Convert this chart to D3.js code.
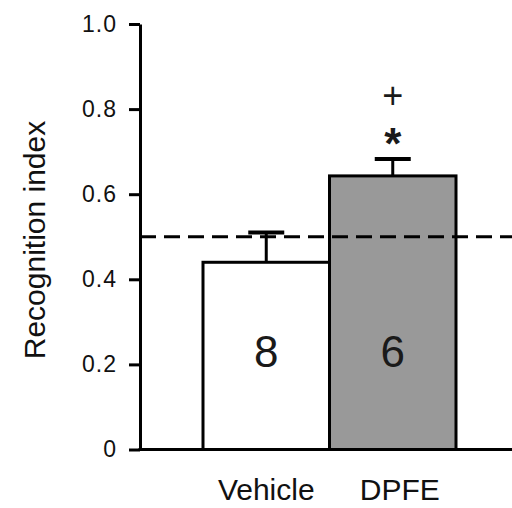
<!DOCTYPE html>
<html>
<head>
<meta charset="utf-8">
<script src="https://cdn.jsdelivr.net/npm/d3@7"></script>
<style>
  html, body { margin: 0; padding: 0; background: #fff; }
  svg { display: block; font-family: "Liberation Sans", Arial, sans-serif; }
</style>
</head>
<body>
<svg id="chart" width="512" height="508"></svg>
<script>
// data
const groups = ["Vehicle", "DPFE"];
const means = [0.44, 0.643];
const sems = [0.07, 0.04];
const counts = ["8", "6"];
const fills = ["#ffffff", "#999999"];
const chance = 0.5;
const yTicks = [0, 0.2, 0.4, 0.6, 0.8, 1.0];
const yTickLabels = ["0", "0.2", "0.4", "0.6", "0.8", "1.0"];

const svg = d3.select("#chart");
const axisLeftX = 140;
const x = d3.scaleBand().domain(groups).range([203, 456]).padding(0);
const y = d3.scaleLinear().domain([0, 1]).range([449.5, 24]);
const bw = x.bandwidth();

// bars
svg.selectAll("rect.bar")
  .data(groups)
  .join("rect")
  .attr("class", "bar")
  .attr("x", d => x(d))
  .attr("y", (d, i) => y(means[i]))
  .attr("width", bw)
  .attr("height", (d, i) => y(0) - y(means[i]))
  .attr("fill", (d, i) => fills[i])
  .attr("stroke", "#000")
  .attr("stroke-width", 3);

// error bars (upper only)
const err = svg.selectAll("g.err").data(groups).join("g").attr("class", "err");
err.append("line")
  .attr("x1", d => x(d) + bw / 2).attr("x2", d => x(d) + bw / 2)
  .attr("y1", (d, i) => y(means[i])).attr("y2", (d, i) => y(means[i] + sems[i]))
  .attr("stroke", "#000").attr("stroke-width", 3);
err.append("line")
  .attr("x1", d => x(d) + bw / 2 - 18).attr("x2", d => x(d) + bw / 2 + 18)
  .attr("y1", (d, i) => y(means[i] + sems[i])).attr("y2", (d, i) => y(means[i] + sems[i]))
  .attr("stroke", "#000").attr("stroke-width", 4);

// n inside bars
svg.selectAll("text.n")
  .data(groups)
  .join("text")
  .attr("class", "n")
  .attr("x", d => x(d) + bw / 2)
  .attr("y", 367)
  .attr("text-anchor", "middle")
  .attr("font-size", 44)
  .attr("fill", "#1a1a1a")
  .text((d, i) => counts[i]);

// chance line
svg.append("line")
  .attr("x1", axisLeftX).attr("x2", 520)
  .attr("y1", y(chance)).attr("y2", y(chance))
  .attr("stroke", "#000").attr("stroke-width", 3)
  .attr("stroke-dasharray", "16 8");

// significance marks over DPFE
const capTop = y(means[1] + sems[1]);
const cx = x("DPFE") + bw / 2;
svg.append("text")
  .attr("x", cx).attr("y", capTop - 26 + 26)
  .attr("text-anchor", "middle")
  .attr("font-size", 44).attr("font-weight", "bold")
  .attr("fill", "#1a1a1a")
  .text("*");
svg.append("text")
  .attr("x", cx).attr("y", capTop - 63 + 12)
  .attr("text-anchor", "middle")
  .attr("font-size", 36)
  .attr("fill", "#1a1a1a")
  .text("+");

// y axis
const gy = svg.append("g")
  .attr("transform", `translate(${axisLeftX},0)`)
  .call(d3.axisLeft(y)
    .tickValues(yTicks)
    .tickFormat((d, i) => yTickLabels[i])
    .tickSize(11)
    .tickSizeOuter(0)
    .tickPadding(12));
gy.select(".domain").attr("stroke-width", 3);
gy.selectAll(".tick line").attr("stroke-width", 3);
gy.selectAll(".tick text")
  .attr("font-size", 23)
  .attr("letter-spacing", 1)
  .attr("fill", "#111")
  .attr("font-family", "Liberation Sans, Arial, sans-serif");

// x axis line
svg.append("line")
  .attr("x1", axisLeftX - 1.5).attr("x2", 520)
  .attr("y1", y(0)).attr("y2", y(0))
  .attr("stroke", "#000").attr("stroke-width", 3);

// category labels
svg.selectAll("text.cat")
  .data(groups)
  .join("text")
  .attr("class", "cat")
  .attr("x", d => x(d) + bw / 2 + (d === "DPFE" ? 7 : 0))
  .attr("y", 500)
  .attr("text-anchor", "middle")
  .attr("font-size", 30)
  .attr("fill", "#111")
  .text(d => d);

// y title
svg.append("text")
  .attr("transform", "translate(45,240) rotate(-90)")
  .attr("text-anchor", "middle")
  .attr("font-size", 30)
  .attr("fill", "#111")
  .text("Recognition index");
</script>
</body>
</html>
